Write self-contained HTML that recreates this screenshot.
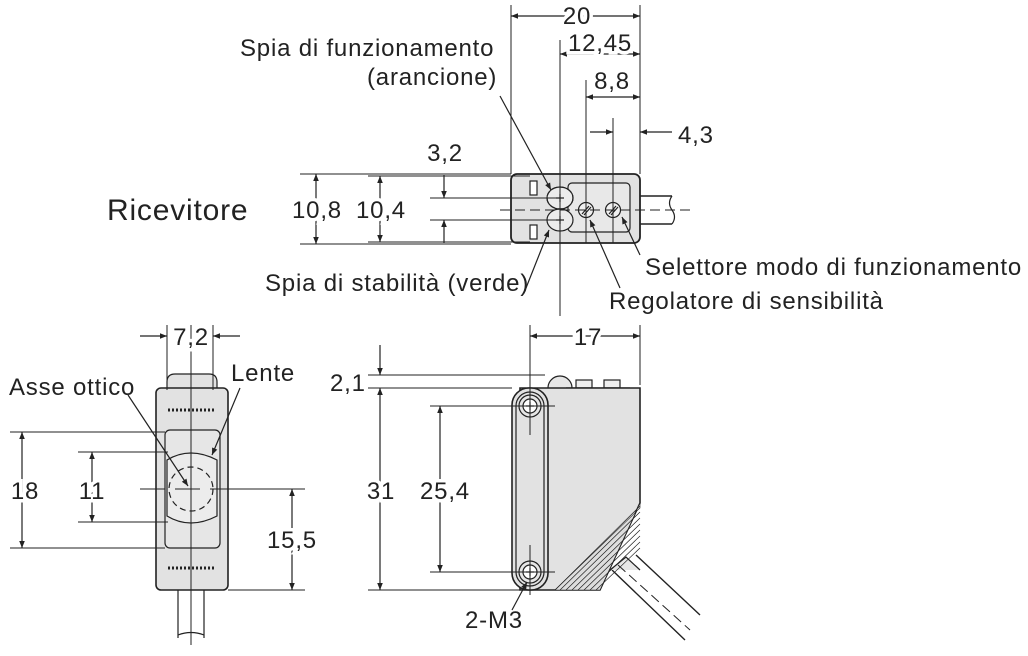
<!DOCTYPE html>
<html><head><meta charset="utf-8"><style>
html,body{margin:0;padding:0;background:#fff}
svg{display:block}
text{font-family:"Liberation Sans",Arial,sans-serif;fill:#222;font-size:24px;letter-spacing:0.8px}
.d{text-anchor:middle;paint-order:stroke;stroke:#fff;stroke-width:7px}
</style></head><body>
<svg width="1028" height="656" viewBox="0 0 1028 656" xmlns="http://www.w3.org/2000/svg">
<defs>
<marker id="a" viewBox="0 0 10 10" refX="10" refY="5" markerWidth="9" markerHeight="7" orient="auto-start-reverse" markerUnits="userSpaceOnUse"><path d="M0,1 L10,5 L0,9z" fill="#222"/></marker>
</defs>
<g stroke="#222" stroke-width="1.2" fill="none">
<!-- TOP VIEW -->
<rect x="511" y="174" width="129" height="69" rx="6" fill="#e2e2e2" stroke-width="1.8"/>
<rect x="568" y="183" width="62" height="49" rx="4" fill="#e8e8e8"/>
<rect x="530" y="181" width="7" height="14" fill="#fff"/>
<rect x="530" y="225" width="7" height="14" fill="#fff"/>
<path d="M640,196 L672,196 M640,224 L672,224" stroke-width="1.5"/>
<path d="M672,196 q-5,7 0,14 q5,7 0,14" />
<ellipse cx="560" cy="198" rx="13" ry="11" fill="#ececec"/>
<ellipse cx="560" cy="220" rx="13" ry="11" fill="#ececec"/>
<ellipse cx="560" cy="198" rx="13" ry="11" stroke-dasharray="5,3"/>
<circle cx="586" cy="210" r="7.5" fill="#f0f0f0"/>
<circle cx="613" cy="210" r="7.5" fill="#f0f0f0"/>
<path d="M582,214 l7,-8 M584,215 l7,-8 M609,214 l7,-8 M611,215 l7,-8"/>
<path d="M556,198h8M560,194v8M556,220h8M560,216v8" />
<path d="M500,210 H690" stroke-dasharray="10,5" stroke-width="1"/>
<path d="M511,5 V174 M640,5 V174 M560,40 V316 M586,80 V243 M613,118 V243 M640,118 V130" stroke-width="1"/>
<line x1="511" y1="16" x2="640" y2="16" marker-start="url(#a)" marker-end="url(#a)"/>
<line x1="560" y1="54" x2="640" y2="54" marker-start="url(#a)" marker-end="url(#a)"/>
<line x1="586" y1="97" x2="640" y2="97" marker-start="url(#a)" marker-end="url(#a)"/>
<line x1="590" y1="132" x2="613" y2="132" marker-end="url(#a)"/>
<line x1="672" y1="132" x2="640" y2="132" marker-end="url(#a)"/>
<path d="M300,174 H511 M300,244 H511 M368,176 H530 M368,242 H530 M430,198 H560 M430,220 H560" stroke-width="1"/>
<line x1="316" y1="210" x2="316" y2="174" marker-end="url(#a)"/>
<line x1="316" y1="210" x2="316" y2="244" marker-end="url(#a)"/>
<line x1="380" y1="210" x2="380" y2="176" marker-end="url(#a)"/>
<line x1="380" y1="210" x2="380" y2="242" marker-end="url(#a)"/>
<line x1="444" y1="175" x2="444" y2="198" marker-end="url(#a)"/>
<line x1="444" y1="243" x2="444" y2="220" marker-end="url(#a)"/>
<line x1="500" y1="96" x2="551" y2="190" marker-end="url(#a)"/>
<line x1="526" y1="288" x2="549" y2="230" marker-end="url(#a)"/>
<line x1="620" y1="288" x2="590" y2="220" marker-end="url(#a)"/>
<line x1="640" y1="255" x2="622" y2="217" marker-end="url(#a)"/>

<!-- FRONT VIEW -->
<path d="M167,390 V382 q0,-8 8,-8 h34 q8,0 8,8 V390" fill="#e2e2e2"/>
<rect x="156" y="388" width="72" height="202" rx="5" fill="#e2e2e2" stroke-width="1.6"/>
<rect x="165" y="430" width="55" height="118" rx="5" fill="#e6e6e6"/>
<path d="M167,460 q23,-14 50,0 V516 q-27,14 -50,0 Z" fill="#ececec"/>
<circle cx="191" cy="489" r="22" stroke-dasharray="6,4"/>
<path d="M178,590 V638 M204,590 V638"/>
<path d="M178,635 q13,-5 26,0"/>
<path d="M168,410 h48 M168,568 h48" stroke-dasharray="2,2" stroke-width="3"/>
<path d="M191,325 V645" stroke-width="1"/>
<path d="M140,489 H300" stroke-dasharray="25,10" stroke-width="1"/>
<path d="M167,325 V390 M213,325 V390" stroke-width="1"/>
<line x1="140" y1="336" x2="167" y2="336" marker-end="url(#a)"/>
<line x1="240" y1="336" x2="213" y2="336" marker-end="url(#a)"/>
<path d="M10,432 H165 M10,548 H165 M78,452 H168 M78,522 H168 M228,590 H305 M228,489 H305" stroke-width="1"/>
<line x1="22" y1="432" x2="22" y2="548" marker-start="url(#a)" marker-end="url(#a)"/>
<line x1="92" y1="452" x2="92" y2="522" marker-start="url(#a)" marker-end="url(#a)"/>
<line x1="292" y1="489" x2="292" y2="590" marker-start="url(#a)" marker-end="url(#a)"/>
<line x1="128" y1="395" x2="188" y2="486" marker-end="url(#a)"/>
<line x1="240" y1="388" x2="212" y2="455" marker-end="url(#a)"/>

<!-- SIDE VIEW -->
<path d="M548,388 a12,12 0 0 1 24,0" fill="#e6e6e6"/>
<rect x="576" y="380" width="16" height="8" fill="#eee"/>
<rect x="604" y="380" width="16" height="8" fill="#eee"/>
<path d="M566,388 H630" />
<path d="M612,570 L685,640 M636,555 L700,615" fill="none" stroke-width="1.4"/>
<path d="M610,570 L626,557 L640,570" fill="#e6e6e6"/>
<path d="M618,565 L690,630" stroke-dasharray="10,5" stroke-width="1"/>
<path d="M520,388 H640 V503 L600,590 H520 Z" fill="#e2e2e2" stroke-width="1.6"/>
<path d="M640,503 L600,590 H555 L640,508 Z" fill="#ddd" stroke-width="0.6"/>
<path stroke-width="0.7" d="M560,590 L640,512 M566,590 L640,518 M572,590 L640,524 M578,590 L640,530 M584,590 L640,536 M590,590 L640,542 M596,590 L640,548 M555,590 L640,506"/>
<rect x="512" y="388" width="36" height="202" rx="17" fill="#e2e2e2" stroke-width="1.6"/>
<rect x="516" y="392" width="28" height="194" rx="14" fill="none"/>
<circle cx="530" cy="406" r="11" fill="#e6e6e6"/><circle cx="530" cy="406" r="7" fill="#fff"/>
<circle cx="530" cy="572" r="11" fill="#e6e6e6"/><circle cx="530" cy="572" r="7" fill="#fff"/>
<path d="M526,406h8M530,402v8M526,572h8M530,568v8" />
<path d="M530,325 V435 M530,545 V595 M505,406 H555 M505,572 H555" stroke-width="1"/>
<path d="M640,325 V385" stroke-width="1"/>
<line x1="530" y1="336" x2="640" y2="336" marker-start="url(#a)" marker-end="url(#a)"/>
<path d="M368,375 H545 M368,388 H512 M430,406 H520 M430,572 H520 M368,590 H520" stroke-width="1"/>
<line x1="380" y1="345" x2="380" y2="375" marker-end="url(#a)"/>
<line x1="380" y1="590" x2="380" y2="388" marker-start="url(#a)" marker-end="url(#a)"/>
<line x1="440" y1="406" x2="440" y2="572" marker-start="url(#a)" marker-end="url(#a)"/>
<line x1="512" y1="610" x2="527" y2="582" marker-end="url(#a)"/>
</g>
<text class="d" x="577" y="24">20</text>
<text class="d" x="600" y="51">12,45</text>
<text class="d" x="612" y="89">8,8</text>
<text x="678" y="143">4,3</text>
<text x="240" y="56">Spia di funzionamento</text>
<text x="367" y="85">(arancione)</text>
<text class="d" x="445" y="161">3,2</text>
<text x="107" y="220" style="font-size:30px">Ricevitore</text>
<text class="d" x="317" y="218">10,8</text>
<text class="d" x="381" y="218">10,4</text>
<text x="265" y="291">Spia di stabilità (verde)</text>
<text x="645" y="275">Selettore modo di funzionamento</text>
<text x="609" y="309">Regolatore di sensibilità</text>
<text class="d" x="191" y="345">7,2</text>
<text x="231" y="381">Lente</text>
<text x="9" y="395">Asse ottico</text>
<text class="d" x="25" y="499">18</text>
<text class="d" x="92" y="499">11</text>
<text class="d" x="292" y="548">15,5</text>
<text class="d" x="588" y="345">17</text>
<text x="330" y="391">2,1</text>
<text class="d" x="381" y="499">31</text>
<text class="d" x="445" y="499">25,4</text>
<text x="465" y="628">2-M3</text>
</svg>
</body></html>
